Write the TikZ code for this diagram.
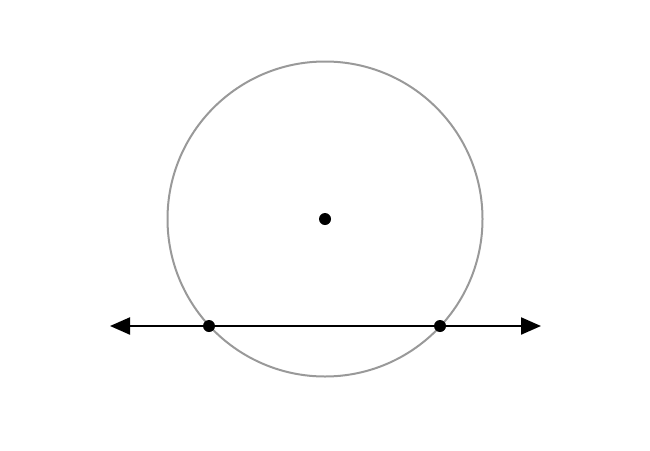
\documentclass[tikz,border=0pt]{standalone}
\usetikzlibrary{arrows.meta}
\begin{document}
\begin{tikzpicture}[x=1pt,y=-1pt,
  circ/.style={draw=black!40, line width=2pt},
  ln/.style={draw=black, line width=2.2pt, {Triangle[length=20pt,width=17pt]}-{Triangle[length=20pt,width=17pt]}},
  dot/.style={circle, fill=black, inner sep=0pt, minimum size=12pt}]
\useasboundingbox (0,0) rectangle (650,450);
\coordinate (o) at (325,219);
\draw[circ] (o) circle (157.5);
\coordinate (l) at (110,326);
\coordinate (r) at (541,326);
\draw[ln] (l) -- (r);
\node[dot] (c) at (o) {};
\node[dot] (p) at (209,326) {};
\node[dot] (q) at (440,326) {};
\end{tikzpicture}
\end{document}
